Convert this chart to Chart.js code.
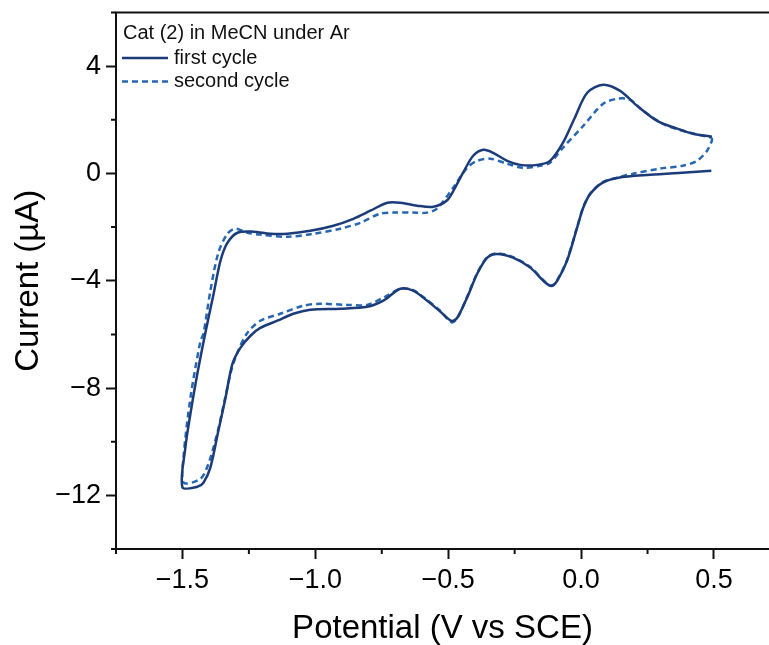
<!DOCTYPE html>
<html>
<head>
<meta charset="utf-8">
<script src="https://cdn.jsdelivr.net/npm/chart.js@4/dist/chart.umd.min.js"></script>
<style>
  html, body { margin: 0; padding: 0; background: #ffffff; overflow: hidden; }
  #wrap { width: 769px; height: 645px; position: relative; }
</style>
</head>
<body>
<div id="wrap"><canvas id="c" width="769" height="645"></canvas></div>
<script>
// ---- Data ----
const seriesLabels = ['first cycle', 'second cycle'];
const legendTitle = 'Cat (2) in MeCN under Ar';
const xTitle = 'Potential (V vs SCE)';
const yTitle = 'Current (\u00B5A)';

// first cycle: potential (V vs SCE)
const firstX = [
  0.49, 0.38, 0.26, 0.14, 0.08, 0.035, 0.008, -0.015, -0.053, -0.09, -0.112, -0.14, -0.19, -0.256, -0.316,
  -0.353, -0.391, -0.429, -0.466, -0.487, -0.53, -0.58, -0.632, -0.68, -0.744, -0.805, -0.906, -1.019, -1.083,
  -1.143, -1.207, -1.244, -1.282, -1.312, -1.338, -1.365, -1.395, -1.421, -1.444, -1.5,
  -1.489, -1.47, -1.444, -1.415, -1.383, -1.357, -1.331, -1.293, -1.233, -1.169, -1.105, -1.019, -0.932,
  -0.857, -0.793, -0.729, -0.68, -0.617, -0.556, -0.504, -0.47, -0.444, -0.406, -0.368, -0.331, -0.278,
  -0.229, -0.165, -0.117, -0.068, -0.025, 0.023, 0.083, 0.147, 0.211, 0.286, 0.362, 0.421, 0.492
];
// first cycle: current (µA)
const firstY = [
  0.10, 0.03, -0.05, -0.16, -0.35, -0.76, -1.28, -2.02, -3.26, -4.0, -4.2, -4.02, -3.52, -3.14, -3.0,
  -3.14, -3.74, -4.63, -5.38, -5.5, -5.15, -4.74, -4.37, -4.3, -4.74, -4.97, -5.04, -5.08, -5.23,
  -5.49, -5.76, -6.05, -6.5, -7.1, -8.37, -9.6, -10.97, -11.53, -11.68, -11.7,
  -10.22, -8.96, -7.47, -6.0, -4.5, -3.26, -2.59, -2.21, -2.17, -2.25, -2.25, -2.14, -1.95,
  -1.69, -1.39, -1.09, -1.09, -1.2, -1.24, -1.0, -0.45, 0.03, 0.66, 0.88, 0.77, 0.47,
  0.32, 0.32, 0.47, 1.15, 2.05, 3.01, 3.31, 3.08, 2.52, 1.96, 1.67, 1.48, 1.37
];

// second cycle: potential (V vs SCE)
const secondX = [
  0.492, 0.492, 0.474, 0.436, 0.383, 0.297, 0.195, 0.135, 0.08, 0.035, 0.008, -0.015, -0.053, -0.09, -0.112,
  -0.14, -0.19, -0.256, -0.316, -0.353, -0.391, -0.429, -0.466, -0.487, -0.53, -0.58, -0.632, -0.68, -0.744,
  -0.805, -0.88, -0.981, -1.045, -1.132, -1.207, -1.256, -1.29, -1.315, -1.34, -1.367, -1.402, -1.432, -1.495,
  -1.496, -1.47, -1.432, -1.421, -1.395, -1.365, -1.331, -1.301, -1.256, -1.207, -1.105, -1.008, -0.906,
  -0.831, -0.756, -0.707, -0.632, -0.579, -0.541, -0.481, -0.429, -0.391, -0.342, -0.278, -0.218, -0.154,
  -0.117, -0.068, 0.008, 0.083, 0.139, 0.184, 0.233, 0.308, 0.383, 0.492
];
// second cycle: current (µA)
const secondY = [
  1.33, 1.22, 0.85, 0.47, 0.29, 0.18, -0.01, -0.16, -0.33, -0.74, -1.26, -2.0, -3.22, -3.98, -4.18,
  -4.0, -3.5, -3.12, -2.98, -3.12, -3.72, -4.6, -5.4, -5.55, -5.12, -4.72, -4.35, -4.3, -4.63,
  -4.9, -4.9, -4.86, -4.93, -5.23, -5.49, -5.95, -6.6, -7.3, -8.4, -9.6, -10.82, -11.38, -11.53,
  -10.6, -8.37, -6.24, -5.98, -4.38, -2.96, -2.25, -2.06, -2.21, -2.28, -2.36, -2.25, -2.06,
  -1.84, -1.5, -1.46, -1.46, -1.46, -1.30, -0.53, 0.21, 0.47, 0.55, 0.36, 0.21, 0.29,
  0.4, 0.96, 1.77, 2.6, 2.79, 2.75, 2.34, 1.85, 1.59, 1.33
];

// axis ranges and ticks
const xMin = -1.75, xMax = 0.707, xStep = 0.25, xMajorStep = 0.5;
const yMin = -14, yMax = 6, yStep = 2, yMajorStep = 4;

const toPoints = (xs, ys) => xs.map((x, i) => ({x: x, y: ys[i]}));
const isMajor = (v, step) => Math.abs(v / step - Math.round(v / step)) < 1e-6;
const fmt = (s) => s.replace('-', '\u2212');

// frame: top border + minor ticks
const frame = {
  id: 'frame',
  afterDraw(chart) {
    const {ctx, chartArea, scales} = chart;
    ctx.save();
    ctx.strokeStyle = '#111';
    ctx.lineWidth = 2;
    ctx.beginPath();
    ctx.moveTo(chartArea.left - 1, chartArea.top);
    ctx.lineTo(chartArea.right + 2, chartArea.top);
    ctx.stroke();
    ctx.beginPath();
    scales.x.ticks.forEach(t => {
      if (!isMajor(t.value, xMajorStep)) {
        const px = scales.x.getPixelForValue(t.value);
        ctx.moveTo(px, chartArea.bottom);
        ctx.lineTo(px, chartArea.bottom + 5);
      }
    });
    scales.y.ticks.forEach(t => {
      if (!isMajor(t.value, yMajorStep)) {
        const py = scales.y.getPixelForValue(t.value);
        ctx.moveTo(chartArea.left, py);
        ctx.lineTo(chartArea.left - 5, py);
      }
    });
    ctx.stroke();
    ctx.restore();
  }
};

// in-plot legend drawn from the datasets' own styles
const insideLegend = {
  id: 'insideLegend',
  afterDraw(chart) {
    const {ctx, chartArea} = chart;
    const x0 = chartArea.left + 6;
    const fontSize = 20;
    ctx.save();
    ctx.font = fontSize + "px 'Liberation Sans', Arial, sans-serif";
    ctx.textBaseline = 'middle';
    ctx.textAlign = 'left';
    ctx.fillStyle = '#111';
    ctx.fillText(legendTitle, x0 + 1, chartArea.top + 21);
    chart.data.datasets.forEach((ds, i) => {
      const cy = chartArea.top + 45.5 + i * 23.5;
      ctx.save();
      ctx.strokeStyle = ds.borderColor;
      ctx.lineWidth = ds.borderWidth;
      ctx.setLineDash(ds.borderDash || []);
      ctx.beginPath();
      ctx.moveTo(x0, cy);
      ctx.lineTo(x0 + 46, cy);
      ctx.stroke();
      ctx.restore();
      ctx.fillText(ds.label, x0 + 52, cy);
    });
    ctx.restore();
  }
};

Chart.defaults.font.family = "'Liberation Sans', Arial, Helvetica, sans-serif";
Chart.defaults.color = '#000';

new Chart(document.getElementById('c'), {
  type: 'scatter',
  data: {
    datasets: [
      {
        label: seriesLabels[0],
        data: toPoints(firstX, firstY),
        showLine: true,
        borderColor: '#1c3c79',
        backgroundColor: '#1c3c79',
        borderWidth: 2.5,
        pointRadius: 0,
        tension: 0.3,
        fill: false
      },
      {
        label: seriesLabels[1],
        data: toPoints(secondX, secondY),
        showLine: true,
        borderColor: '#2767b1',
        backgroundColor: '#2767b1',
        borderWidth: 2.5,
        borderDash: [6, 4],
        pointRadius: 0,
        tension: 0.3,
        fill: false
      }
    ]
  },
  options: {
    responsive: false,
    animation: false,
    clip: false,
    layout: { padding: { top: 12.5, right: 0, left: 0, bottom: 0 } },
    plugins: {
      tooltip: { enabled: false },
      legend: { display: false }
    },
    scales: {
      x: {
        type: 'linear',
        min: xMin,
        max: xMax,
        afterFit(s) { s.height = 96; s.paddingLeft = 0; s.paddingRight = 0; },
        border: { display: true, color: '#111', width: 2 },
        grid: {
          drawOnChartArea: false,
          drawTicks: true,
          tickLength: 10,
          tickWidth: 2,
          tickColor: (c) => (c.tick && isMajor(c.tick.value, xMajorStep)) ? '#111' : 'rgba(0,0,0,0)'
        },
        ticks: {
          stepSize: xStep,
          includeBounds: false,
          autoSkip: false,
          maxRotation: 0,
          padding: 5,
          font: { size: 27 },
          callback: (v) => isMajor(v, xMajorStep) ? fmt(Number(v).toFixed(1)) : ''
        },
        title: {
          display: true,
          text: xTitle,
          font: { size: 33, lineHeight: 1 },
          padding: { top: 0, bottom: 0 }
        }
      },
      y: {
        type: 'linear',
        min: yMin,
        max: yMax,
        afterFit(s) { s.width = 116; s.paddingTop = 0; s.paddingBottom = 0; },
        border: { display: true, color: '#111', width: 2 },
        grid: {
          drawOnChartArea: false,
          drawTicks: true,
          tickLength: 10,
          tickWidth: 2,
          tickColor: (c) => (c.tick && isMajor(c.tick.value, yMajorStep)) ? '#111' : 'rgba(0,0,0,0)'
        },
        ticks: {
          stepSize: yStep,
          includeBounds: false,
          autoSkip: false,
          padding: 5,
          font: { size: 27 },
          callback: (v) => isMajor(v, yMajorStep) ? fmt(String(Math.round(v))) : ''
        },
        title: {
          display: true,
          text: yTitle,
          font: { size: 33, lineHeight: 1 },
          padding: { top: 12, bottom: 0 }
        }
      }
    }
  },
  plugins: [frame, insideLegend]
});
</script>
</body>
</html>
